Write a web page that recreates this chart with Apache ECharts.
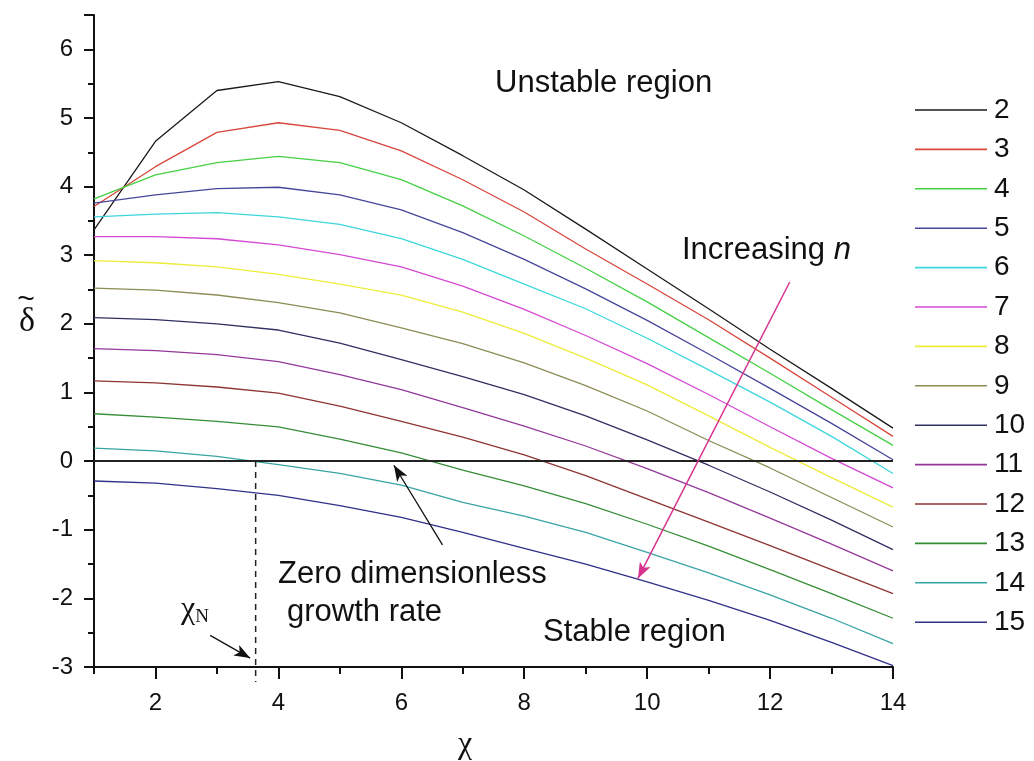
<!DOCTYPE html>
<html>
<head>
<meta charset="utf-8">
<script src="https://cdn.jsdelivr.net/npm/echarts@6/dist/echarts.min.js"></script>
<style>
html,body{margin:0;padding:0;background:#fff;}
#chart{width:1034px;height:761px;}
</style>
</head>
<body>
<div id="chart"></div>
<script>
// x values (chi)
const chi = [1,2,3,4,5,6,7,8,9,10,11,12,13,14];
// dimensionless growth rate for n = 2 ... 15
const n2  = [3.37,4.66,5.40,5.53,5.31,4.93,4.45,3.95,3.38,2.80,2.22,1.63,1.06,0.48];
const n3  = [3.71,4.29,4.79,4.93,4.82,4.52,4.10,3.63,3.09,2.58,2.06,1.50,0.93,0.36];
const n4  = [3.82,4.17,4.35,4.44,4.35,4.10,3.72,3.28,2.81,2.32,1.80,1.28,0.75,0.23];
const n5  = [3.76,3.88,3.97,3.99,3.88,3.66,3.33,2.94,2.51,2.05,1.56,1.06,0.55,0.02];
const n6  = [3.56,3.60,3.62,3.56,3.45,3.24,2.94,2.58,2.22,1.79,1.33,0.86,0.36,-0.18];
const n7  = [3.27,3.27,3.24,3.15,3.01,2.83,2.55,2.21,1.83,1.42,0.97,0.50,0.04,-0.39];
const n8  = [2.92,2.89,2.83,2.72,2.58,2.42,2.17,1.86,1.50,1.11,0.66,0.20,-0.24,-0.67];
const n9  = [2.52,2.49,2.42,2.31,2.16,1.94,1.71,1.43,1.10,0.73,0.30,-0.10,-0.53,-0.96];
const n10 = [2.09,2.06,2.00,1.91,1.72,1.48,1.23,0.97,0.66,0.31,-0.06,-0.45,-0.86,-1.29];
const n11 = [1.64,1.61,1.55,1.45,1.26,1.04,0.78,0.51,0.22,-0.11,-0.46,-0.83,-1.21,-1.60];
const n12 = [1.17,1.14,1.08,0.99,0.80,0.58,0.35,0.09,-0.21,-0.55,-0.89,-1.23,-1.58,-1.93];
const n13 = [0.69,0.64,0.58,0.50,0.32,0.12,-0.13,-0.36,-0.62,-0.92,-1.24,-1.58,-1.93,-2.29];
const n14 = [0.19,0.15,0.07,-0.05,-0.18,-0.35,-0.60,-0.80,-1.04,-1.33,-1.63,-1.95,-2.29,-2.66];
const n15 = [-0.29,-0.32,-0.40,-0.50,-0.65,-0.82,-1.04,-1.27,-1.50,-1.76,-2.03,-2.32,-2.64,-2.98];

const seriesNames = ['2','3','4','5','6','7','8','9','10','11','12','13','14','15'];
const seriesValues = [n2,n3,n4,n5,n6,n7,n8,n9,n10,n11,n12,n13,n14,n15];
const seriesColors = ['#1a1a1a','#d8463c','#45d045','#46469a','#3dd6dc','#d448d4','#ecec3a','#8c8c55',
                      '#303062','#94389a','#8e3434','#358e35','#38a4a4','#303088'];

const xMajorTicks = [2,4,6,8,10,12,14];
const xMinorTicks = [1,3,5,7,9,11,13];

// annotation positions (data coordinates)
const chiN = 3.63;
const zeroLine = 0;

const chart = echarts.init(document.getElementById('chart'), null, {renderer:'canvas'});

const series = seriesNames.map((name, i) => ({
  name: name,
  type: 'line',
  data: chi.map((x, k) => [x, seriesValues[i][k]]),
  symbol: 'none',
  showSymbol: false,
  smooth: false,
  lineStyle: {color: seriesColors[i], width: 1.3},
  itemStyle: {color: seriesColors[i]},
  z: 3
}));

// dashed chi_N marker line (extends slightly below the axis)
series.push({
  name: 'chiN',
  type: 'line',
  data: [[chiN, zeroLine], [chiN, -3.22]],
  symbol: 'none',
  clip: false,
  silent: true,
  lineStyle: {color: '#222', width: 1.5, type: [6, 5]},
  z: 4
});

// annotation series: zero line and arrows
series.push({
  name: 'annot',
  type: 'line',
  data: [],
  silent: true,
  z: 4,
  markLine: {
    silent: true,
    animation: false,
    label: {show: false},
    data: [
      [{coord: [1, zeroLine], symbol: 'none', lineStyle: {color: '#222', width: 2, type: 'solid'}},
       {coord: [14, zeroLine], symbol: 'none'}],
      [{coord: [12.32, 2.61], symbol: 'none', lineStyle: {color: '#d6338f', width: 1.5, type: 'solid'}},
       {coord: [9.85, -1.71], symbol: 'arrow', symbolSize: [9, 16]}],
      [{coord: [6.67, -1.22], symbol: 'none', lineStyle: {color: '#111', width: 1.3, type: 'solid'}},
       {coord: [5.88, -0.06], symbol: 'arrow', symbolSize: [9, 16]}],
      [{coord: [2.89, -2.54], symbol: 'none', lineStyle: {color: '#111', width: 1.3, type: 'solid'}},
       {coord: [3.54, -2.87], symbol: 'arrow', symbolSize: [9, 16]}]
    ]
  }
});

const textFont = '"Liberation Sans", Arial, sans-serif';
const serifFont = '"Liberation Serif", "DejaVu Serif", serif';

const option = {
  animation: false,
  backgroundColor: '#ffffff',
  grid: {left: 94, right: 141, top: 15, bottom: 94, containLabel: false, outerBoundsMode: 'none'},
  legend: {
    orient: 'vertical',
    left: 915,
    top: 96,
    padding: 0,
    icon: 'rect',
    itemWidth: 72,
    itemHeight: 1.6,
    itemGap: 11.4,
    data: seriesNames,
    textStyle: {fontFamily: textFont, fontSize: 28, color: '#111', lineHeight: 28, padding: [0,0,0,2]},
    selectedMode: false
  },
  xAxis: [{
    type: 'value',
    min: 1, max: 14, interval: 1,
    position: 'bottom',
    axisLine: {show: true, onZero: false, lineStyle: {color: '#111', width: 2}},
    axisTick: {show: true, inside: false, length: 12, lineStyle: {color: '#111', width: 2}, customValues: xMajorTicks},
    axisLabel: {show: true, margin: 24, fontFamily: textFont, fontSize: 24, color: '#111', customValues: xMajorTicks},
    splitLine: {show: false}
  }, {
    type: 'value',
    min: 1, max: 14, interval: 1,
    position: 'bottom',
    offset: 0,
    axisLine: {show: false, onZero: false},
    axisTick: {show: true, length: 7, lineStyle: {color: '#111', width: 2}, customValues: xMinorTicks},
    axisLabel: {show: false},
    splitLine: {show: false}
  }],
  yAxis: {
    type: 'value',
    min: -3, max: 6.5, interval: 1,
    axisLine: {show: true, onZero: false, lineStyle: {color: '#111', width: 2}},
    axisTick: {show: true, inside: false, length: 10, lineStyle: {color: '#111', width: 2}},
    minorTick: {show: true, splitNumber: 2, length: 6, lineStyle: {color: '#111', width: 2}},
    axisLabel: {margin: 21, fontFamily: textFont, fontSize: 24, color: '#111', showMaxLabel: false,
      formatter: v => (Number.isInteger(v) ? String(v) : '')},
    splitLine: {show: false}
  },
  graphic: [
    // axis titles
    {type: 'text', x: 465, y: 745, silent: true,
     style: {text: 'χ', font: '32px ' + serifFont, fill: '#111', textAlign: 'center', textVerticalAlign: 'middle'}},
    {type: 'text', x: 27, y: 322, silent: true,
     style: {text: 'δ', font: '34px ' + serifFont, fill: '#111', textAlign: 'center', textVerticalAlign: 'middle'}},
    {type: 'text', x: 26, y: 300, silent: true,
     style: {text: '~', font: '30px ' + textFont, fill: '#111', textAlign: 'center', textVerticalAlign: 'middle'}},
    // annotations
    {type: 'text', x: 495, y: 83, silent: true,
     style: {text: 'Unstable region', font: '31px ' + textFont, fill: '#111', textVerticalAlign: 'middle'}},
    {type: 'text', x: 682, y: 250, silent: true,
     style: {text: '{a|Increasing }{b|n}', fill: '#111', textVerticalAlign: 'middle',
       rich: {a: {fontFamily: textFont, fontSize: 31, fill: '#111'}, b: {fontFamily: textFont, fontSize: 31, fontStyle: 'italic', fill: '#111'}}}},
    {type: 'text', x: 278, y: 574, silent: true,
     style: {text: 'Zero dimensionless', font: '31px ' + textFont, fill: '#111', textVerticalAlign: 'middle'}},
    {type: 'text', x: 287, y: 612, silent: true,
     style: {text: 'growth rate', font: '31px ' + textFont, fill: '#111', textVerticalAlign: 'middle'}},
    {type: 'text', x: 543, y: 632, silent: true,
     style: {text: 'Stable region', font: '31px ' + textFont, fill: '#111', textVerticalAlign: 'middle'}},
    {type: 'text', x: 181, y: 610, silent: true,
     style: {text: '{a|χ}{b|N}', fill: '#111', textVerticalAlign: 'middle',
       rich: {a: {fontFamily: serifFont, fontSize: 32, fill: '#111'},
              b: {fontFamily: serifFont, fontSize: 19, fill: '#111', padding: [14,0,0,0]}}}}
  ],
  series: series
};

chart.setOption(option);
</script>
</body>
</html>
